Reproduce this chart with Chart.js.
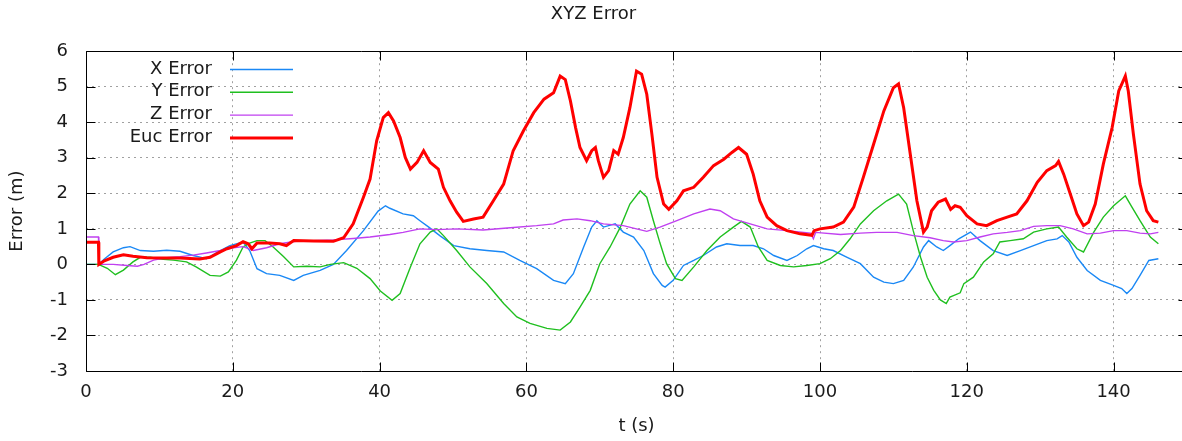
<!DOCTYPE html>
<html>
<head>
<meta charset="utf-8">
<script src="https://cdn.jsdelivr.net/npm/chart.js@4/dist/chart.umd.min.js"></script>
<style>
  html, body { margin: 0; padding: 0; background: #fff; overflow: hidden; }
  #wrap { width: 1190px; height: 441px; }
</style>
</head>
<body>
<div id="wrap"><canvas id="c" width="1190" height="441"></canvas></div>
<script>
// ---- tick labels ----
const xTicks = [0, 20, 40, 60, 80, 100, 120, 140];
const yTicks = [-3, -2, -1, 0, 1, 2, 3, 4, 5, 6];

// ---- series names ----
const seriesNames = ['X Error', 'Y Error', 'Z Error', 'Euc Error'];

// ---- X Error ----
const xErrT = [0, 1.7, 2.5, 3.7, 5.1, 6.0, 7.4, 9.2, 11.0, 12.8, 14.6, 16.4, 18.3, 19.6, 21.4, 22.3, 23.3, 24.6, 26.4, 28.3, 29.6, 31.9, 33.7, 35.5, 37.8, 39.8, 40.8, 41.4, 43.2, 44.6, 45.5, 46.7, 48.2, 50.1, 52.3, 54.6, 56.9, 59.1, 61.4, 63.7, 65.3, 66.4, 67.8, 68.9, 69.6, 70.5, 72.1, 73.2, 74.6, 76.0, 77.3, 78.5, 78.9, 80.0, 81.4, 82.8, 84.1, 85.9, 87.3, 89.1, 90.9, 92.3, 93.7, 95.5, 96.9, 98.2, 99.1, 100.5, 101.8, 103.7, 105.5, 107.3, 108.7, 110.0, 111.4, 112.7, 114.1, 114.8, 115.9, 116.8, 117.7, 118.9, 120.5, 121.8, 123.6, 125.5, 127.3, 129.1, 130.9, 132.3, 133.0, 133.9, 135.0, 136.4, 138.2, 140.0, 141.1, 141.8, 142.5, 143.6, 144.8, 146.1];
const xErrV = [0, 0, 0.15, 0.35, 0.47, 0.5, 0.39, 0.37, 0.4, 0.37, 0.25, 0.16, 0.39, 0.53, 0.63, 0.39, -0.12, -0.26, -0.31, -0.45, -0.31, -0.17, 0, 0.39, 0.95, 1.5, 1.65, 1.58, 1.42, 1.37, 1.23, 1.05, 0.81, 0.53, 0.44, 0.39, 0.35, 0.11, -0.12, -0.45, -0.54, -0.26, 0.49, 1.05, 1.23, 1.05, 1.14, 0.91, 0.77, 0.39, -0.26, -0.59, -0.64, -0.45, -0.03, 0.11, 0.25, 0.49, 0.58, 0.53, 0.53, 0.44, 0.25, 0.11, 0.25, 0.44, 0.53, 0.44, 0.39, 0.2, 0.02, -0.36, -0.5, -0.54, -0.45, -0.08, 0.49, 0.67, 0.49, 0.39, 0.53, 0.72, 0.91, 0.67, 0.39, 0.25, 0.39, 0.53, 0.67, 0.72, 0.81, 0.63, 0.2, -0.17, -0.45, -0.59, -0.68, -0.82, -0.68, -0.31, 0.11, 0.16];

// ---- Y Error ----
const yErrT = [0, 1.7, 2.9, 4.0, 5.1, 6.4, 7.4, 8.8, 10.1, 11.9, 13.7, 15.0, 16.9, 18.3, 19.4, 20.5, 21.4, 22.3, 23.3, 24.4, 25.5, 26.9, 28.3, 30.1, 31.9, 33.3, 35.1, 36.9, 38.7, 40.1, 41.7, 42.8, 44.2, 45.5, 46.9, 47.8, 48.7, 50.5, 52.3, 54.6, 56.9, 58.7, 60.5, 62.8, 64.6, 66.0, 67.3, 68.7, 70.0, 71.4, 72.8, 74.1, 75.5, 76.4, 77.3, 78.2, 79.1, 80.3, 81.2, 82.8, 84.6, 86.4, 88.2, 89.3, 90.5, 91.6, 92.8, 94.6, 96.4, 98.2, 100.0, 101.4, 102.8, 104.1, 105.5, 107.3, 109.1, 110.7, 111.8, 112.7, 113.7, 114.6, 115.5, 116.4, 117.2, 117.7, 119.1, 119.6, 120.9, 122.3, 123.6, 124.5, 125.9, 127.7, 129.1, 130.9, 132.5, 133.6, 135.0, 135.9, 137.3, 138.6, 140.0, 141.6, 142.5, 143.6, 145.0, 146.1];
const yErrV = [0, 0, -0.11, -0.29, -0.16, 0.07, 0.2, 0.2, 0.15, 0.12, 0.07, -0.07, -0.31, -0.33, -0.21, 0.12, 0.49, 0.6, 0.67, 0.67, 0.49, 0.22, -0.07, -0.05, -0.07, 0, 0.05, -0.11, -0.4, -0.75, -1.01, -0.82, -0.07, 0.58, 0.91, 1.0, 0.81, 0.39, -0.07, -0.54, -1.1, -1.48, -1.66, -1.8, -1.85, -1.62, -1.2, -0.73, 0.02, 0.49, 1.05, 1.7, 2.07, 1.89, 1.23, 0.6, 0.02, -0.4, -0.45, -0.07, 0.39, 0.77, 1.05, 1.21, 1.05, 0.49, 0.11, -0.03, -0.07, -0.03, 0.02, 0.16, 0.39, 0.72, 1.14, 1.51, 1.79, 1.98, 1.7, 0.95, 0.2, -0.36, -0.73, -1.0, -1.1, -0.92, -0.8, -0.54, -0.36, 0.07, 0.3, 0.63, 0.67, 0.72, 0.91, 1.0, 1.05, 0.77, 0.44, 0.35, 0.91, 1.33, 1.65, 1.93, 1.61, 1.23, 0.77, 0.58];

// ---- Z Error ----
const zErrT = [0, 1.7, 1.75, 3.7, 5.6, 7.0, 7.9, 9.2, 11.0, 12.8, 14.6, 16.4, 18.3, 20.1, 21.4, 22.8, 24.6, 26.4, 28.6, 31.0, 33.7, 36.4, 38.7, 41.4, 43.2, 45.5, 47.8, 50.5, 54.1, 57.8, 61.4, 63.7, 65.0, 66.9, 68.7, 70.5, 73.2, 75.0, 76.4, 78.2, 80.5, 82.8, 85.0, 86.4, 88.2, 90.5, 92.8, 95.5, 98.7, 99.1, 99.4, 102.8, 105.5, 107.7, 110.5, 112.7, 115.0, 116.8, 118.2, 120.0, 121.8, 123.6, 125.5, 127.3, 129.1, 130.9, 132.7, 134.5, 136.4, 138.2, 140.0, 141.8, 143.6, 145.0, 146.1];
const zErrV = [0.77, 0.77, 0, 0, -0.03, -0.05, 0, 0.12, 0.19, 0.22, 0.26, 0.32, 0.39, 0.47, 0.5, 0.39, 0.47, 0.58, 0.65, 0.67, 0.69, 0.73, 0.77, 0.84, 0.9, 1.0, 0.98, 1.0, 0.97, 1.03, 1.09, 1.14, 1.25, 1.28, 1.23, 1.14, 1.09, 1.0, 0.93, 1.05, 1.23, 1.42, 1.56, 1.51, 1.28, 1.14, 1.0, 0.95, 0.88, 0.72, 0.9, 0.84, 0.88, 0.9, 0.9, 0.81, 0.75, 0.67, 0.63, 0.67, 0.77, 0.86, 0.9, 0.95, 1.07, 1.09, 1.09, 1.0, 0.86, 0.88, 0.95, 0.95, 0.88, 0.86, 0.9];

// ---- Euclidean Error ----
const eucT = [0, 1.7, 1.75, 2.5, 3.7, 5.1, 6.4, 8.3, 10.5, 12.8, 15.5, 16.9, 18.3, 19.2, 20.5, 21.4, 22.1, 22.6, 23.3, 25.0, 26.4, 27.3, 28.3, 31.0, 33.7, 35.1, 36.4, 37.8, 38.7, 39.6, 40.5, 41.2, 41.9, 42.8, 43.5, 44.2, 45.1, 46.0, 46.9, 48.0, 48.7, 49.6, 50.5, 51.4, 52.8, 54.1, 55.5, 56.9, 58.2, 59.6, 61.0, 62.4, 63.7, 64.6, 65.3, 66.0, 66.7, 67.3, 68.2, 68.9, 69.4, 69.8, 70.5, 71.2, 71.9, 72.5, 73.2, 74.1, 75.0, 75.7, 76.4, 77.1, 77.8, 78.7, 79.4, 80.5, 81.4, 82.8, 84.1, 85.5, 86.9, 88.0, 88.9, 90.0, 90.9, 91.8, 92.8, 94.1, 95.5, 97.3, 98.9, 99.2, 100.0, 101.8, 103.2, 104.6, 105.9, 107.3, 108.7, 110.0, 110.7, 111.4, 112.3, 113.2, 114.1, 114.6, 115.2, 116.1, 117.1, 117.8, 118.4, 119.1, 120.0, 121.4, 122.7, 124.1, 125.5, 126.8, 128.2, 129.6, 130.9, 132.1, 132.5, 133.2, 134.1, 135.0, 135.9, 136.6, 137.5, 138.6, 139.8, 140.7, 141.6, 142.0, 142.7, 143.6, 144.5, 145.4, 146.1];
const eucV = [0.62, 0.62, 0, 0.1, 0.2, 0.27, 0.23, 0.19, 0.18, 0.18, 0.15, 0.2, 0.35, 0.44, 0.53, 0.64, 0.58, 0.44, 0.6, 0.6, 0.58, 0.53, 0.67, 0.66, 0.65, 0.75, 1.14, 1.89, 2.4, 3.48, 4.13, 4.27, 4.04, 3.57, 3.01, 2.68, 2.87, 3.2, 2.87, 2.68, 2.17, 1.79, 1.47, 1.21, 1.28, 1.33, 1.79, 2.26, 3.2, 3.76, 4.27, 4.65, 4.83, 5.3, 5.2, 4.6, 3.85, 3.29, 2.92, 3.2, 3.29, 2.92, 2.45, 2.64, 3.2, 3.1, 3.57, 4.41, 5.44, 5.35, 4.79, 3.66, 2.45, 1.7, 1.55, 1.79, 2.07, 2.17, 2.45, 2.78, 2.96, 3.15, 3.29, 3.1, 2.54, 1.79, 1.33, 1.09, 0.95, 0.86, 0.82, 0.95, 1.0, 1.05, 1.19, 1.61, 2.45, 3.38, 4.32, 4.97, 5.08, 4.41, 3.1, 1.79, 0.91, 1.05, 1.51, 1.75, 1.84, 1.55, 1.65, 1.61, 1.37, 1.14, 1.09, 1.23, 1.33, 1.42, 1.79, 2.31, 2.64, 2.78, 2.9, 2.54, 1.98, 1.42, 1.09, 1.19, 1.7, 2.82, 3.85, 4.88, 5.3, 4.88, 3.66, 2.26, 1.51, 1.23, 1.19];

const pts = (ts, vs) => ts.map((t, i) => ({ x: t, y: vs[i] }));

const FONT = 'DejaVu Sans';
const TXT = '#1a1a1a';
const colors = ['#1a88f5', '#1fbf1f', '#c040f0', '#ff0000'];
const widths = [1.4, 1.4, 1.4, 3];

const framePlugin = {
  id: 'frame',
  afterDatasetsDraw(chart) {
    const { ctx, chartArea: a, scales } = chart;
    const xs = scales.x, ys = scales.y;
    ctx.save();
    ctx.strokeStyle = '#000';
    ctx.lineWidth = 1;
    ctx.beginPath();
    const L = Math.round(a.left) + 0.5, R = Math.round(a.right) + 0.5;
    const T = Math.round(a.top) + 0.5, B = Math.round(a.bottom) + 0.5;
    ctx.rect(L, T, R - L, B - T);
    yTicks.forEach(v => {
      const py = Math.round(ys.getPixelForValue(v)) + 0.5;
      ctx.moveTo(L, py); ctx.lineTo(L + 9, py);
      ctx.moveTo(R, py); ctx.lineTo(R - 9, py);
    });
    xTicks.forEach(v => {
      const px = Math.round(xs.getPixelForValue(v)) + 0.5;
      ctx.moveTo(px, B); ctx.lineTo(px, B - 9);
      ctx.moveTo(px, T); ctx.lineTo(px, T + 9);
    });
    ctx.stroke();

    // key (gnuplot style: right-aligned text, sample line on the right)
    ctx.font = '18px "' + FONT + '"';
    ctx.textAlign = 'right';
    ctx.textBaseline = 'middle';
    seriesNames.forEach((name, i) => {
      const yc = 69 + i * 22.8;
      ctx.fillStyle = TXT;
      ctx.fillText(name, 212, yc);
      ctx.strokeStyle = colors[i];
      ctx.lineWidth = widths[i];
      ctx.beginPath();
      ctx.moveTo(230, yc + 0.5);
      ctx.lineTo(293, yc + 0.5);
      ctx.stroke();
    });
    ctx.restore();
  }
};

const series = [
  pts(xErrT, xErrV),
  pts(yErrT, yErrV),
  pts(zErrT, zErrV),
  pts(eucT, eucV)
];

new Chart(document.getElementById('c'), {
  type: 'line',
  data: {
    datasets: series.map((d, i) => ({
      label: seriesNames[i],
      data: d,
      borderColor: colors[i],
      backgroundColor: colors[i],
      borderWidth: widths[i],
      pointRadius: 0,
      tension: 0,
      fill: false,
      order: 4 - i
    }))
  },
  options: {
    responsive: false,
    animation: false,
    devicePixelRatio: 1,
    layout: { padding: { left: 0, right: 3, top: 0, bottom: 0 } },
    plugins: {
      legend: { display: false },
      tooltip: { enabled: false },
      title: {
        display: true,
        text: 'XYZ Error',
        color: TXT,
        font: { family: FONT, size: 18, weight: 'normal' },
        padding: { top: 4, bottom: 25.6 }
      }
    },
    scales: {
      x: {
        type: 'linear',
        min: 0,
        max: 150,
        afterBuildTicks: s => { s.ticks = xTicks.map(v => ({ value: v })); },
        afterFit: s => { s.height = 70; },
        ticks: {
          color: TXT,
          font: { family: FONT, size: 18 },
          padding: 11,
          maxRotation: 0,
          autoSkip: false
        },
        grid: { color: '#a0a0a0', lineWidth: 1, drawTicks: false },
        border: { display: false, dash: [2, 4] },
        title: {
          display: true,
          text: 't (s)',
          color: TXT,
          font: { family: FONT, size: 18 },
          padding: 4
        }
      },
      y: {
        type: 'linear',
        min: -3,
        max: 6,
        afterBuildTicks: s => { s.ticks = yTicks.map(v => ({ value: v })); },
        afterFit: s => { s.width = 86; },
        ticks: {
          color: TXT,
          font: { family: FONT, size: 18 },
          padding: 18,
          autoSkip: false
        },
        grid: { color: '#a0a0a0', lineWidth: 1, drawTicks: false },
        border: { display: false, dash: [2, 4] },
        title: {
          display: true,
          text: 'Error (m)',
          color: TXT,
          font: { family: FONT, size: 18 },
          padding: 7
        }
      }
    }
  },
  plugins: [framePlugin]
});
</script>
</body>
</html>
